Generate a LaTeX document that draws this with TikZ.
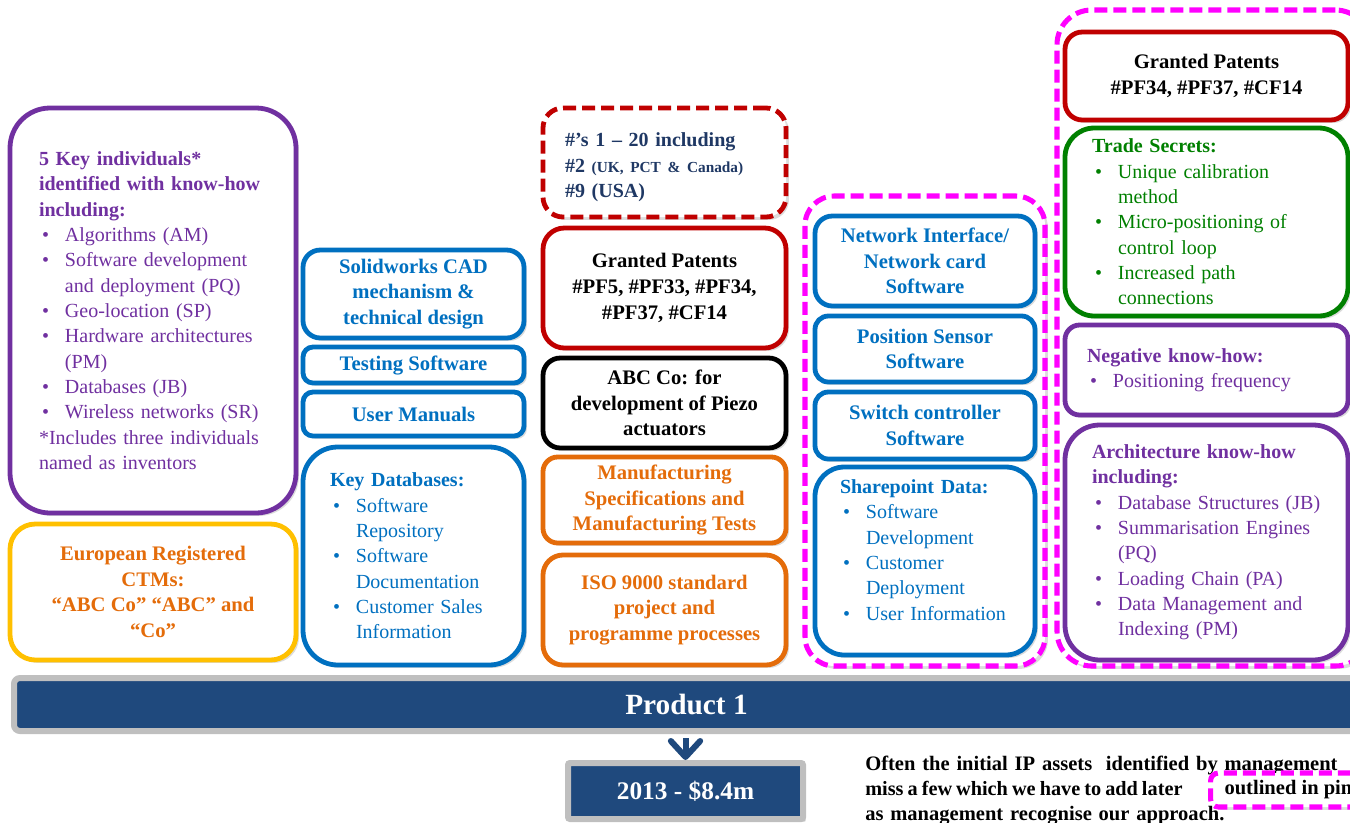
\documentclass[tikz,border=0pt]{standalone}
\usepackage{fontspec}
\setmainfont{Liberation Serif}
\usetikzlibrary{shadows,arrows.meta}
\newdimen\PX \PX=0.75pt
\definecolor{cpurp}{HTML}{7030A0}
\definecolor{cgold}{HTML}{FFC000}
\definecolor{corange}{HTML}{E46C0A}
\definecolor{cblue}{HTML}{0070C0}
\definecolor{cred}{HTML}{C00000}
\definecolor{cnavy}{HTML}{1F3864}
\definecolor{cgreen}{HTML}{008000}
\definecolor{cpink}{HTML}{FF00FF}
\definecolor{cbar}{HTML}{1F497D}
\definecolor{cgray}{HTML}{BFBFBF}
\newcommand{\nl}{\hfil\break}
\newcommand{\bi}[1]{\par\noindent\hangindent=26\PX\hangafter=1\makebox[26\PX][l]{\hspace{3\PX}\textbullet}#1}
\newcommand{\padbot}[1]{\par\vspace{#1}\nointerlineskip\hbox{}}
\tikzset{
  shd/.style={drop shadow={opacity=0.28,shadow xshift=2.2pt,shadow yshift=-2.2pt}},
  bx/.style={draw, line width=3.6pt, fill=white, inner sep=0pt, shd},
  ctext/.style={align=center, font=\bfseries\fontsize{15.5}{19.2}\selectfont},
  ltext/.style={align=left, font=\fontsize{15}{19}\selectfont},
  pinkgrp/.style={draw=cpink, line width=3.8pt, dash pattern=on 9.75pt off 4.5pt, fill=white, inner sep=0pt, shd},
  barbox/.style={draw=cgray, line width=4.5pt, fill=cbar, text=white, shd},
  notefont/.style={font=\bfseries\fontsize{15.4}{18.75}\selectfont}
}
\begin{document}
\begin{tikzpicture}[x=0.75pt,y=-0.75pt]
\useasboundingbox (0,0) rectangle (1350,822);
\clip (0,0) rectangle (1350,822);

% ---------- column 1
\node[bx, draw=cpurp, rounded corners=30pt, minimum width=286\PX, minimum height=405\PX,
      ltext, text width=228\PX, text=cpurp] (keyind) at (153,310.5)
{\textbf{5 Key individuals*\\identified with know-how\\including:}
\bi{Algorithms (AM)}
\bi{Software development\nl and deployment (PQ)}
\bi{Geo-location (SP)}
\bi{Hardware architectures\nl (PM)}
\bi{Databases (JB)}
\bi{Wireless networks (SR)}
\par\noindent*Includes three individuals\nl named as inventors\par};

\node[bx, draw=cgold, rounded corners=19pt, minimum width=286\PX, minimum height=136\PX,
      ctext, text=corange] (ctm) at (153,592)
{European Registered\\CTMs:\\“ABC Co” “ABC” and\\“Co”};

% ---------- column 2
\node[bx, draw=cblue, rounded corners=13pt, minimum width=221\PX, minimum height=88\PX,
      ctext, text=cblue] (cad) at (413.5,294) {Solidworks CAD\\mechanism \&\\technical design};
\node[bx, draw=cblue, rounded corners=7.5pt, minimum width=221\PX, minimum height=36\PX,
      ctext, text=cblue] (test) at (413.5,365) {Testing Software};
\node[bx, draw=cblue, rounded corners=7.5pt, minimum width=221\PX, minimum height=44\PX,
      ctext, text=cblue] (um) at (413.5,414) {User Manuals};
\node[bx, draw=cblue, rounded corners=26pt, minimum width=221\PX, minimum height=218\PX,
      ltext, text width=167\PX, text=cblue] (kdb) at (413.5,556)
{\textbf{Key Databases:}
\bi{Software\nl Repository}
\bi{Software\nl Documentation}
\bi{Customer Sales\nl Information}\par};

% ---------- column 3
\node[bx, draw=cred, dash pattern=on 9.75pt off 4.5pt, rounded corners=15pt, minimum width=243\PX,
      minimum height=109\PX, ltext, text width=199\PX, text=cnavy] (hash) at (664.5,162.5)
{\bfseries \#’s 1 – 20 including\\\#2 {\fontsize{11.5}{14}\selectfont (UK, PCT \& Canada)}\\\#9 (USA)\padbot{-10\PX}};
\node[bx, draw=cred, rounded corners=16pt, minimum width=243\PX, minimum height=120\PX,
      ctext, text=black] (gp) at (664.5,288) {Granted Patents\\\#PF5, \#PF33, \#PF34,\\\#PF37, \#CF14};
\node[bx, draw=black, rounded corners=13pt, minimum width=243\PX, minimum height=90\PX,
      ctext, text=black] (abc) at (664.5,403) {ABC Co: for\\development of Piezo\\actuators};
\node[bx, draw=corange, rounded corners=11pt, minimum width=243\PX, minimum height=86\PX,
      ctext, text=corange] (mfg) at (664.5,500) {Manufacturing\\Specifications and\\Manufacturing Tests};
\node[bx, draw=corange, rounded corners=15pt, minimum width=243\PX, minimum height=110\PX,
      ctext, text=corange] (iso) at (664.5,610) {ISO 9000 standard\\project and\\programme processes};

% ---------- pink group 1
\node[pinkgrp, rounded corners=22pt, minimum width=240\PX, minimum height=470\PX] (grpa) at (925,431) {};
\node[bx, draw=cblue, rounded corners=13pt, minimum width=220\PX, minimum height=90\PX,
      ctext, text=cblue] (net) at (925,261) {Network Interface/\\Network card\\Software};
\node[bx, draw=cblue, rounded corners=10pt, minimum width=220\PX, minimum height=66\PX,
      ctext, text=cblue] (pos) at (925,349) {Position Sensor\\Software};
\node[bx, draw=cblue, rounded corners=10pt, minimum width=220\PX, minimum height=67\PX,
      ctext, text=cblue] (swc) at (925,425.5) {Switch controller\\Software};
\node[bx, draw=cblue, rounded corners=22pt, minimum width=220\PX, minimum height=188\PX,
      ltext, text width=170\PX, text=cblue] (spd) at (925,561)
{\textbf{Sharepoint Data:}
\bi{Software\nl Development}
\bi{Customer\nl Deployment}
\bi{User Information}\padbot{22\PX}};

% ---------- pink group 2
\node[pinkgrp, rounded corners=26pt, minimum width=313\PX, minimum height=656\PX] (grpb) at (1213.5,338) {};
\node[bx, draw=cred, rounded corners=13pt, minimum width=283\PX, minimum height=88\PX,
      ctext, text=black] (gpb) at (1206.5,76) {Granted Patents\\\#PF34, \#PF37, \#CF14};
\node[bx, draw=cgreen, rounded corners=22pt, minimum width=283\PX, minimum height=188\PX,
      ltext, text width=229\PX, text=cgreen] (ts) at (1206.5,222)
{\textbf{Trade Secrets:}
\bi{Unique calibration\nl method}
\bi{Micro-positioning of\nl control loop}
\bi{Increased path\nl connections}\par};
\node[bx, draw=cpurp, rounded corners=11pt, minimum width=283\PX, minimum height=90\PX,
      ltext, text width=239\PX, text=cpurp] (neg) at (1206.5,370)
{\textbf{Negative know-how:}
\bi{Positioning frequency}\par};
\node[bx, draw=cpurp, rounded corners=26pt, minimum width=283\PX, minimum height=235\PX,
      ltext, text width=229\PX, text=cpurp] (arch) at (1206.5,542.5)
{\textbf{Architecture know-how\\including:}
\bi{Database Structures (JB)}
\bi{Summarisation Engines\nl (PQ)}
\bi{Loading Chain (PA)}
\bi{Data Management and\nl Indexing (PM)}\par};

% ---------- bar, arrow, year
\node[barbox, rounded corners=4.5pt, minimum width=1345\PX, minimum height=53\PX,
      font=\bfseries\fontsize{22}{26}\selectfont] (bar) at (686.5,704.5) {Product 1};
\node[barbox, rounded corners=1.5pt, minimum width=235\PX, minimum height=56\PX,
      font=\bfseries\fontsize{19}{22}\selectfont] (yr) at (685.5,791) {2013 - \$8.4m};
\draw[cbar, line width=4.5pt, -{Straight Barb[length=12pt, width=22pt, line width=4.5pt, round]}, shorten <=3pt]
  (bar.south -| yr.north) -- (yr.north);

% ---------- note
\node[anchor=north west, inner sep=0pt, text width=600\PX, align=left, notefont] (note) at (865,756)
{Often the initial IP assets\ \ identified by management\\{\fontsize{15.2}{18.75}\selectfont\spaceskip=0.2em plus 0.1em minus 0.05em miss a few which we have to add later}\\as management recognise our approach.};
\node[draw=cpink, line width=3.8pt, dash pattern=on 9.75pt off 4.5pt, rounded corners=6pt, fill=white, shd,
      anchor=west, minimum height=34\PX, inner xsep=10.5pt, inner ysep=0pt, notefont] (pinknote) at (1208,790)
{outlined in pink};
\end{tikzpicture}
\end{document}
